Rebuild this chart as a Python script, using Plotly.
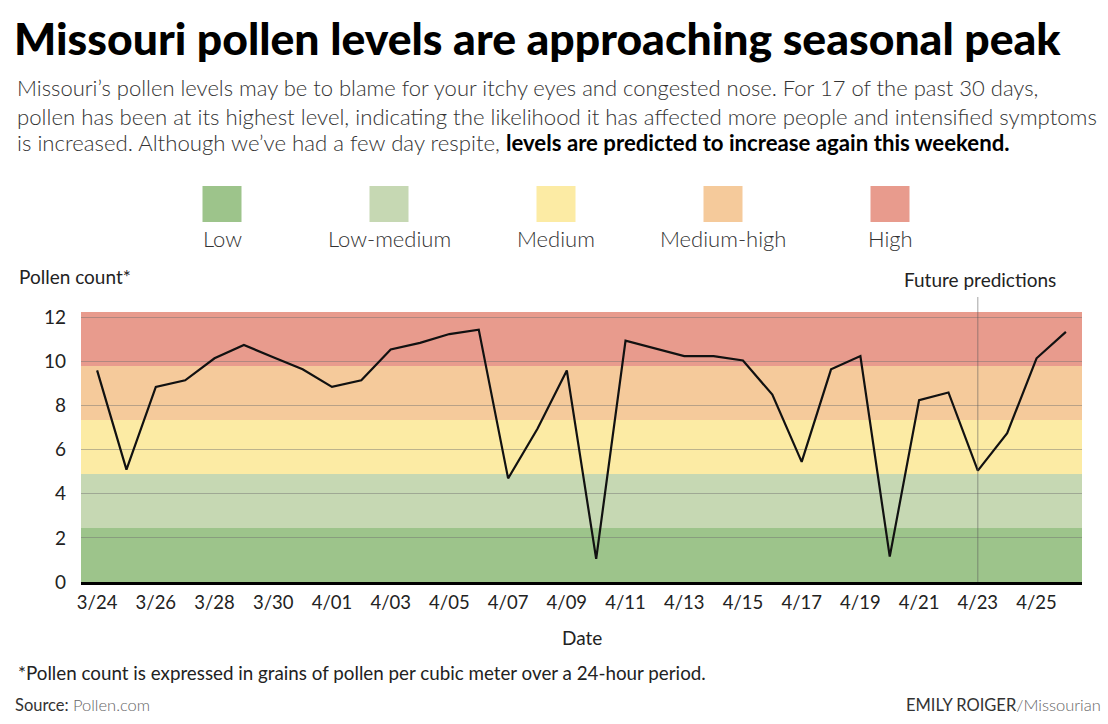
import plotly.graph_objects as go
import pandas as pd

# ---- data ----
dates = pd.date_range("2023-03-24", "2023-04-26", freq="D")
pollen = [9.6, 5.1, 8.85, 9.15, 10.15, 10.75, 10.2, 9.65, 8.85, 9.15,
          10.55, 10.85, 11.25, 11.45, 4.7, 6.95, 9.6, 1.05, 10.95, 10.6,
          10.25, 10.25, 10.05, 8.5, 5.45, 9.65, 10.25, 1.15, 8.25, 8.6,
          5.05, 6.75, 10.15, 11.35]
level_names = ["Low", "Low-medium", "Medium", "Medium-high", "High"]
level_colors = ["#9DC48B", "#C6D8B3", "#FCEBA4", "#F5CA9B", "#E89B8D"]
level_bounds = [0, 2.45, 4.9, 7.35, 9.8, 12.25]
y_ticks = [0, 2, 4, 6, 8, 10, 12]
prediction_start = "2023-04-23"

# ---- geometry helpers (pixel -> paper) ----
W, H = 1108, 724
L, R, T, B = 81, 1082, 312, 582
def px(x):
    return (x - L) / (R - L)
def py(y):
    return (B - y) / (B - T)

FONT = "Lato, 'Open Sans', sans-serif"

fig = go.Figure()
fig.add_trace(go.Scatter(
    x=dates, y=pollen, mode="lines",
    line=dict(color="#111111", width=2.2),
    hoverinfo="x+y", showlegend=False,
))

shapes = []
# background level bands
for i, c in enumerate(level_colors):
    shapes.append(dict(type="rect", xref="paper", yref="y", x0=0, x1=1,
                       y0=level_bounds[i], y1=level_bounds[i + 1],
                       fillcolor=c, line=dict(width=0), layer="below"))
# future predictions divider
shapes.append(dict(type="line", xref="x", yref="paper",
                   x0=prediction_start, x1=prediction_start,
                   y0=0, y1=py(297),
                   line=dict(color="rgba(90,90,90,0.55)", width=1)))

annotations = []
# legend squares + labels
legend_centers = [222, 389, 556, 723, 890]
for name, c, cx in zip(level_names, level_colors, legend_centers):
    shapes.append(dict(type="rect", xref="paper", yref="paper",
                       x0=px(cx - 19.5), x1=px(cx + 19.5),
                       y0=py(222), y1=py(186),
                       fillcolor=c, line=dict(width=0)))
    annotations.append(dict(text=name, xref="paper", yref="paper",
                            x=px(cx), y=py(238), xanchor="center", yanchor="middle",
                            showarrow=False,
                            font=dict(family=FONT, size=22, color="#333333", weight=300)))

def ann(text, x, y, size, color="#222222", xanchor="left", weight=400):
    annotations.append(dict(text=text, xref="paper", yref="paper",
                            x=px(x), y=py(y), xanchor=xanchor, yanchor="middle",
                            showarrow=False,
                            font=dict(family=FONT, size=size, color=color, weight=weight)))

ann("Missouri pollen levels are approaching seasonal peak", 12, 37, 44.5,
    color="#000000", weight=900)
ann("Missouri’s pollen levels may be to blame for your itchy eyes and congested nose. For 17 of the past 30 days,",
    15, 88, 22, color="#333333", weight=300)
ann("pollen has been at its highest level, indicating the likelihood it has affected more people and intensified symptoms",
    15, 116, 22.2, color="#333333", weight=300)
ann("is increased. Although we’ve had a few day respite, <b style='color:#000'>levels are predicted to increase again this weekend.</b>",
    15, 143, 22.2, color="#333333", weight=300)
ann("Pollen count*", 17, 276, 19)
ann("Future predictions", 980, 279, 19, xanchor="center")
ann("Date", 582, 637, 19, xanchor="center")
ann("*Pollen count is expressed in grains of pollen per cubic meter over a 24-hour period.",
    16, 672, 18.8)
ann("Source: <span style='color:#666666;font-weight:300'>Pollen.com</span>",
    13, 705, 16.5, color="#333333")
ann("EMILY ROIGER<span style='color:#666666;font-weight:300'>/Missourian</span>",
    1103, 705, 16.5, color="#333333", xanchor="right")

fig.update_layout(
    width=W, height=H,
    margin=dict(l=L, r=W - R, t=T, b=H - B, pad=0),
    paper_bgcolor="white", plot_bgcolor="white",
    shapes=shapes, annotations=annotations,
    font=dict(family=FONT, color="#222222"),
    showlegend=False,
)
fig.update_xaxes(
    type="date",
    range=["2023-03-23 10:50", "2023-04-26 13:10"],
    tick0="2023-03-24", dtick=2 * 86400000,
    tickformat="%-m/%d",
    showgrid=False, zeroline=False,
    showline=True, linecolor="#000000", linewidth=3,
    ticks="", ticklabelstandoff=2,
    tickfont=dict(family=FONT, size=18.5, color="#222222"),
)
fig.update_yaxes(
    range=[0, 12.25], tickvals=y_ticks,
    showgrid=True, gridcolor="rgba(110,110,110,0.45)", gridwidth=1,
    zeroline=False, showline=False, ticks="",
    ticklabelstandoff=14,
    tickfont=dict(family=FONT, size=19, color="#222222"),
)

fig.write_html("out.html",
               config={"displayModeBar": False},
               post_script="document.body.style.margin='0';document.body.style.padding='0';")
